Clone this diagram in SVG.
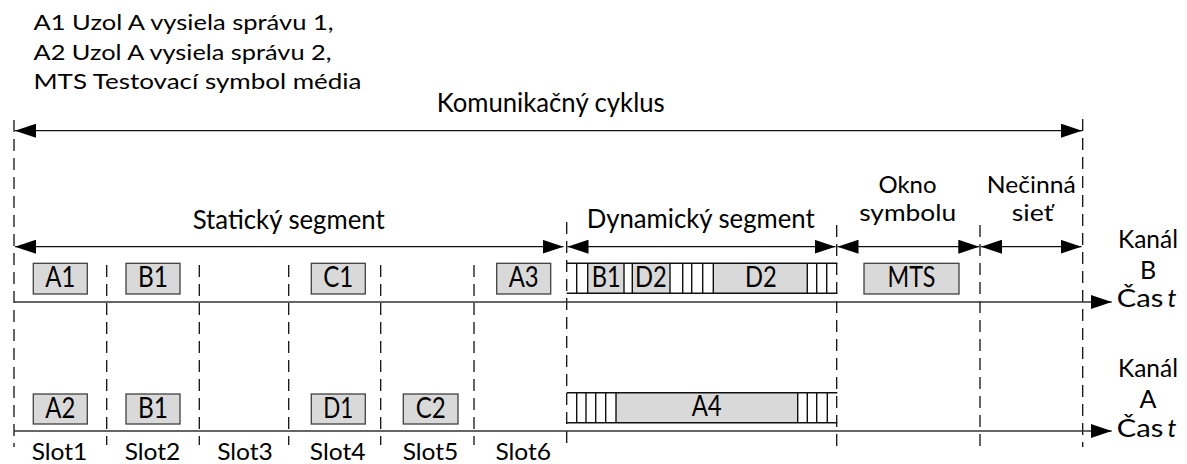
<svg xmlns="http://www.w3.org/2000/svg" width="1187" height="464" viewBox="0 0 1187 464">
  <style>
    .t { font-family: Lato, "Liberation Sans", sans-serif; fill: #000; }
    .hd { font-size: 22px; }
    .lb { font-size: 26.5px; }
    .st { font-size: 23.5px; }
    .ch { font-size: 25px; }
    .sl { font-size: 23px; }
    .bx { font-size: 28px; text-anchor: middle; }
    .c { text-anchor: middle; }
    .box { fill: #d9d9d9; stroke: #404040; stroke-width: 1.3; }
    .gray { fill: #d9d9d9; stroke: none; }
    .frame { fill: none; stroke: #111; stroke-width: 1.4; }
    .dash { stroke: #111; stroke-width: 1.3; stroke-dasharray: 12 7; fill: none; }
    .arr { stroke: #111; stroke-width: 1.3; fill: none; marker-start: url(#ah); marker-end: url(#ah); }
    .axis { stroke: #333; stroke-width: 1.3; fill: none; marker-end: url(#ah); }
  </style>
  <defs>
    <marker id="ah" markerUnits="userSpaceOnUse" markerWidth="22" markerHeight="14" viewBox="0 0 22 14" refX="21" refY="7" orient="auto-start-reverse">
      <path d="M0,0 L21,7 L0,14 z" fill="#000"/>
    </marker>
  </defs>
  <rect width="1187" height="464" fill="#fff"/>

  <!-- legend -->
  <g id="legend">
    <text class="t hd" x="33.5" y="30" textLength="300" lengthAdjust="spacingAndGlyphs">A1 Uzol A vysiela správu 1,</text>
    <text class="t hd" x="33.5" y="59.5" textLength="298" lengthAdjust="spacingAndGlyphs">A2 Uzol A vysiela správu 2,</text>
    <text class="t hd" x="33.5" y="89.3" textLength="328" lengthAdjust="spacingAndGlyphs">MTS Testovací symbol média</text>
  </g>

  <!-- connectors: dashed boundaries, span arrows, time axes -->
  <g id="connectors">
    <line class="dash" x1="14" y1="120" x2="14" y2="447"/>
    <line class="dash" x1="106.7" y1="265" x2="106.7" y2="445"/>
    <line class="dash" x1="199.3" y1="265" x2="199.3" y2="445"/>
    <line class="dash" x1="288.7" y1="265" x2="288.7" y2="445"/>
    <line class="dash" x1="380.7" y1="265" x2="380.7" y2="445"/>
    <line class="dash" x1="474" y1="265" x2="474" y2="445"/>
    <line class="dash" x1="566.7" y1="222" x2="566.7" y2="450"/>
    <line class="dash" x1="836.7" y1="225" x2="836.7" y2="447"/>
    <line class="dash" x1="980" y1="225" x2="980" y2="447"/>
    <line class="dash" x1="1082.7" y1="119" x2="1082.7" y2="447"/>

    <line class="arr" x1="15" y1="130.7" x2="1082" y2="130.7"/>
    <line class="arr" x1="15" y1="246.7" x2="563.5" y2="246.7"/>
    <line class="arr" x1="567.5" y1="246.7" x2="835.5" y2="246.7"/>
    <line class="arr" x1="837.5" y1="246.7" x2="979.3" y2="246.7"/>
    <line class="arr" x1="981" y1="246.7" x2="1081.5" y2="246.7"/>

    <line class="axis" x1="14" y1="302" x2="1111.7" y2="302"/>
    <line class="axis" x1="14" y1="431" x2="1111.7" y2="431"/>
  </g>

  <!-- segment headings -->
  <g id="cycle-label">
    <text class="t lb" x="436.7" y="111.7" textLength="228" lengthAdjust="spacingAndGlyphs">Komunikačný cyklus</text>
  </g>
  <g id="static-label">
    <text class="t lb" x="192.7" y="229" textLength="192" lengthAdjust="spacingAndGlyphs">Statický segment</text>
  </g>
  <g id="dynamic-label">
    <text class="t lb" x="586.7" y="228.3" textLength="228" lengthAdjust="spacingAndGlyphs">Dynamický segment</text>
  </g>
  <g id="symbol-label">
    <text class="t st c" x="907.5" y="193" textLength="58" lengthAdjust="spacingAndGlyphs">Okno</text>
    <text class="t st c" x="907.7" y="220.5" textLength="97" lengthAdjust="spacingAndGlyphs">symbolu</text>
  </g>
  <g id="idle-label">
    <text class="t st c" x="1031.3" y="193" textLength="89" lengthAdjust="spacingAndGlyphs">Nečinná</text>
    <text class="t st c" x="1032.5" y="220.5" textLength="41.6" lengthAdjust="spacingAndGlyphs">sieť</text>
  </g>

  <!-- channel labels -->
  <g id="channel-b">
    <text class="t ch c" x="1148" y="248.3" textLength="60" lengthAdjust="spacingAndGlyphs">Kanál</text>
    <text class="t ch c" x="1148" y="278.5">B</text>
    <text class="t ch" x="1116.7" y="307" textLength="46.6" lengthAdjust="spacingAndGlyphs">Čas</text>
    <text class="t ch" x="1167.5" y="307" font-style="italic">t</text>
  </g>
  <g id="channel-a">
    <text class="t ch c" x="1148" y="377" textLength="60" lengthAdjust="spacingAndGlyphs">Kanál</text>
    <text class="t ch c" x="1148" y="407.5">A</text>
    <text class="t ch" x="1116.7" y="436.5" textLength="46.6" lengthAdjust="spacingAndGlyphs">Čas</text>
    <text class="t ch" x="1167.5" y="436.5" font-style="italic">t</text>
  </g>

  <!-- static slot frames, channel B -->
  <g id="b-a1"><rect class="box" x="33.3" y="263.3" width="54" height="30.7"/><text class="t bx" x="60.3" y="287" textLength="30" lengthAdjust="spacingAndGlyphs">A1</text></g>
  <g id="b-b1"><rect class="box" x="126" y="263.3" width="54" height="30.7"/><text class="t bx" x="153" y="287" textLength="30" lengthAdjust="spacingAndGlyphs">B1</text></g>
  <g id="b-c1"><rect class="box" x="311.3" y="263.3" width="54" height="30.7"/><text class="t bx" x="338.3" y="287" textLength="30" lengthAdjust="spacingAndGlyphs">C1</text></g>
  <g id="b-a3"><rect class="box" x="496.7" y="263.3" width="54" height="30.7"/><text class="t bx" x="523.7" y="287" textLength="30" lengthAdjust="spacingAndGlyphs">A3</text></g>
  <g id="b-mts"><rect class="box" x="864" y="263.3" width="95" height="30.7"/><text class="t bx" x="911.5" y="287" textLength="48" lengthAdjust="spacingAndGlyphs">MTS</text></g>

  <!-- dynamic segment, channel B -->
  <g id="b-dynamic">
    <rect class="gray" x="587.7" y="263.3" width="36.3" height="30"/>
    <rect class="gray" x="632.3" y="263.3" width="37.7" height="30"/>
    <rect class="gray" x="713.3" y="263.3" width="94" height="30"/>
    <path class="frame" d="M566.7,263.3 H837.3 M566.7,293.3 H837.3
      M576.7,263.3 V293.3 M587.7,263.3 V293.3 M624,263.3 V293.3 M632.3,263.3 V293.3
      M670,263.3 V293.3 M682.7,263.3 V293.3 M691.7,263.3 V293.3 M702.7,263.3 V293.3
      M713.3,263.3 V293.3 M807.3,263.3 V293.3 M816.7,263.3 V293.3 M826.7,263.3 V293.3"/>
    <text class="t bx" x="606.2" y="286.5" textLength="29" lengthAdjust="spacingAndGlyphs">B1</text>
    <text class="t bx" x="650.8" y="286.5" textLength="31.7" lengthAdjust="spacingAndGlyphs">D2</text>
    <text class="t bx" x="760.8" y="286.5" textLength="31.7" lengthAdjust="spacingAndGlyphs">D2</text>
  </g>

  <!-- static slot frames, channel A -->
  <g id="a-a2"><rect class="box" x="33.3" y="394" width="54" height="30"/><text class="t bx" x="60.3" y="417.5" textLength="30" lengthAdjust="spacingAndGlyphs">A2</text></g>
  <g id="a-b1"><rect class="box" x="126" y="394" width="54" height="30"/><text class="t bx" x="153" y="417.5" textLength="30" lengthAdjust="spacingAndGlyphs">B1</text></g>
  <g id="a-d1"><rect class="box" x="311.3" y="394" width="54" height="30"/><text class="t bx" x="338.3" y="417.5" textLength="30" lengthAdjust="spacingAndGlyphs">D1</text></g>
  <g id="a-c2"><rect class="box" x="403.3" y="394" width="54.7" height="30"/><text class="t bx" x="430.7" y="417.5" textLength="30" lengthAdjust="spacingAndGlyphs">C2</text></g>

  <!-- dynamic segment, channel A -->
  <g id="a-dynamic">
    <rect class="gray" x="616" y="392.7" width="181.7" height="30"/>
    <path class="frame" d="M566.7,392.7 H837.3 M566.7,422.7 H837.3
      M576.7,392.7 V422.7 M586,392.7 V422.7 M595.7,392.7 V422.7 M605.7,392.7 V422.7
      M616,392.7 V422.7 M797.7,392.7 V422.7 M807.3,392.7 V422.7 M816.7,392.7 V422.7 M827.3,392.7 V422.7"/>
    <text class="t bx" x="706.7" y="416.3" textLength="30" lengthAdjust="spacingAndGlyphs">A4</text>
  </g>

  <!-- slot names -->
  <g id="slots">
    <text class="t sl c" x="59.5" y="460" textLength="55.7" lengthAdjust="spacingAndGlyphs">Slot1</text>
    <text class="t sl c" x="152.5" y="460" textLength="55.7" lengthAdjust="spacingAndGlyphs">Slot2</text>
    <text class="t sl c" x="245" y="460" textLength="55.7" lengthAdjust="spacingAndGlyphs">Slot3</text>
    <text class="t sl c" x="337.7" y="460" textLength="55.7" lengthAdjust="spacingAndGlyphs">Slot4</text>
    <text class="t sl c" x="430.5" y="460" textLength="55.7" lengthAdjust="spacingAndGlyphs">Slot5</text>
    <text class="t sl c" x="523.3" y="460" textLength="55.7" lengthAdjust="spacingAndGlyphs">Slot6</text>
  </g>
</svg>
